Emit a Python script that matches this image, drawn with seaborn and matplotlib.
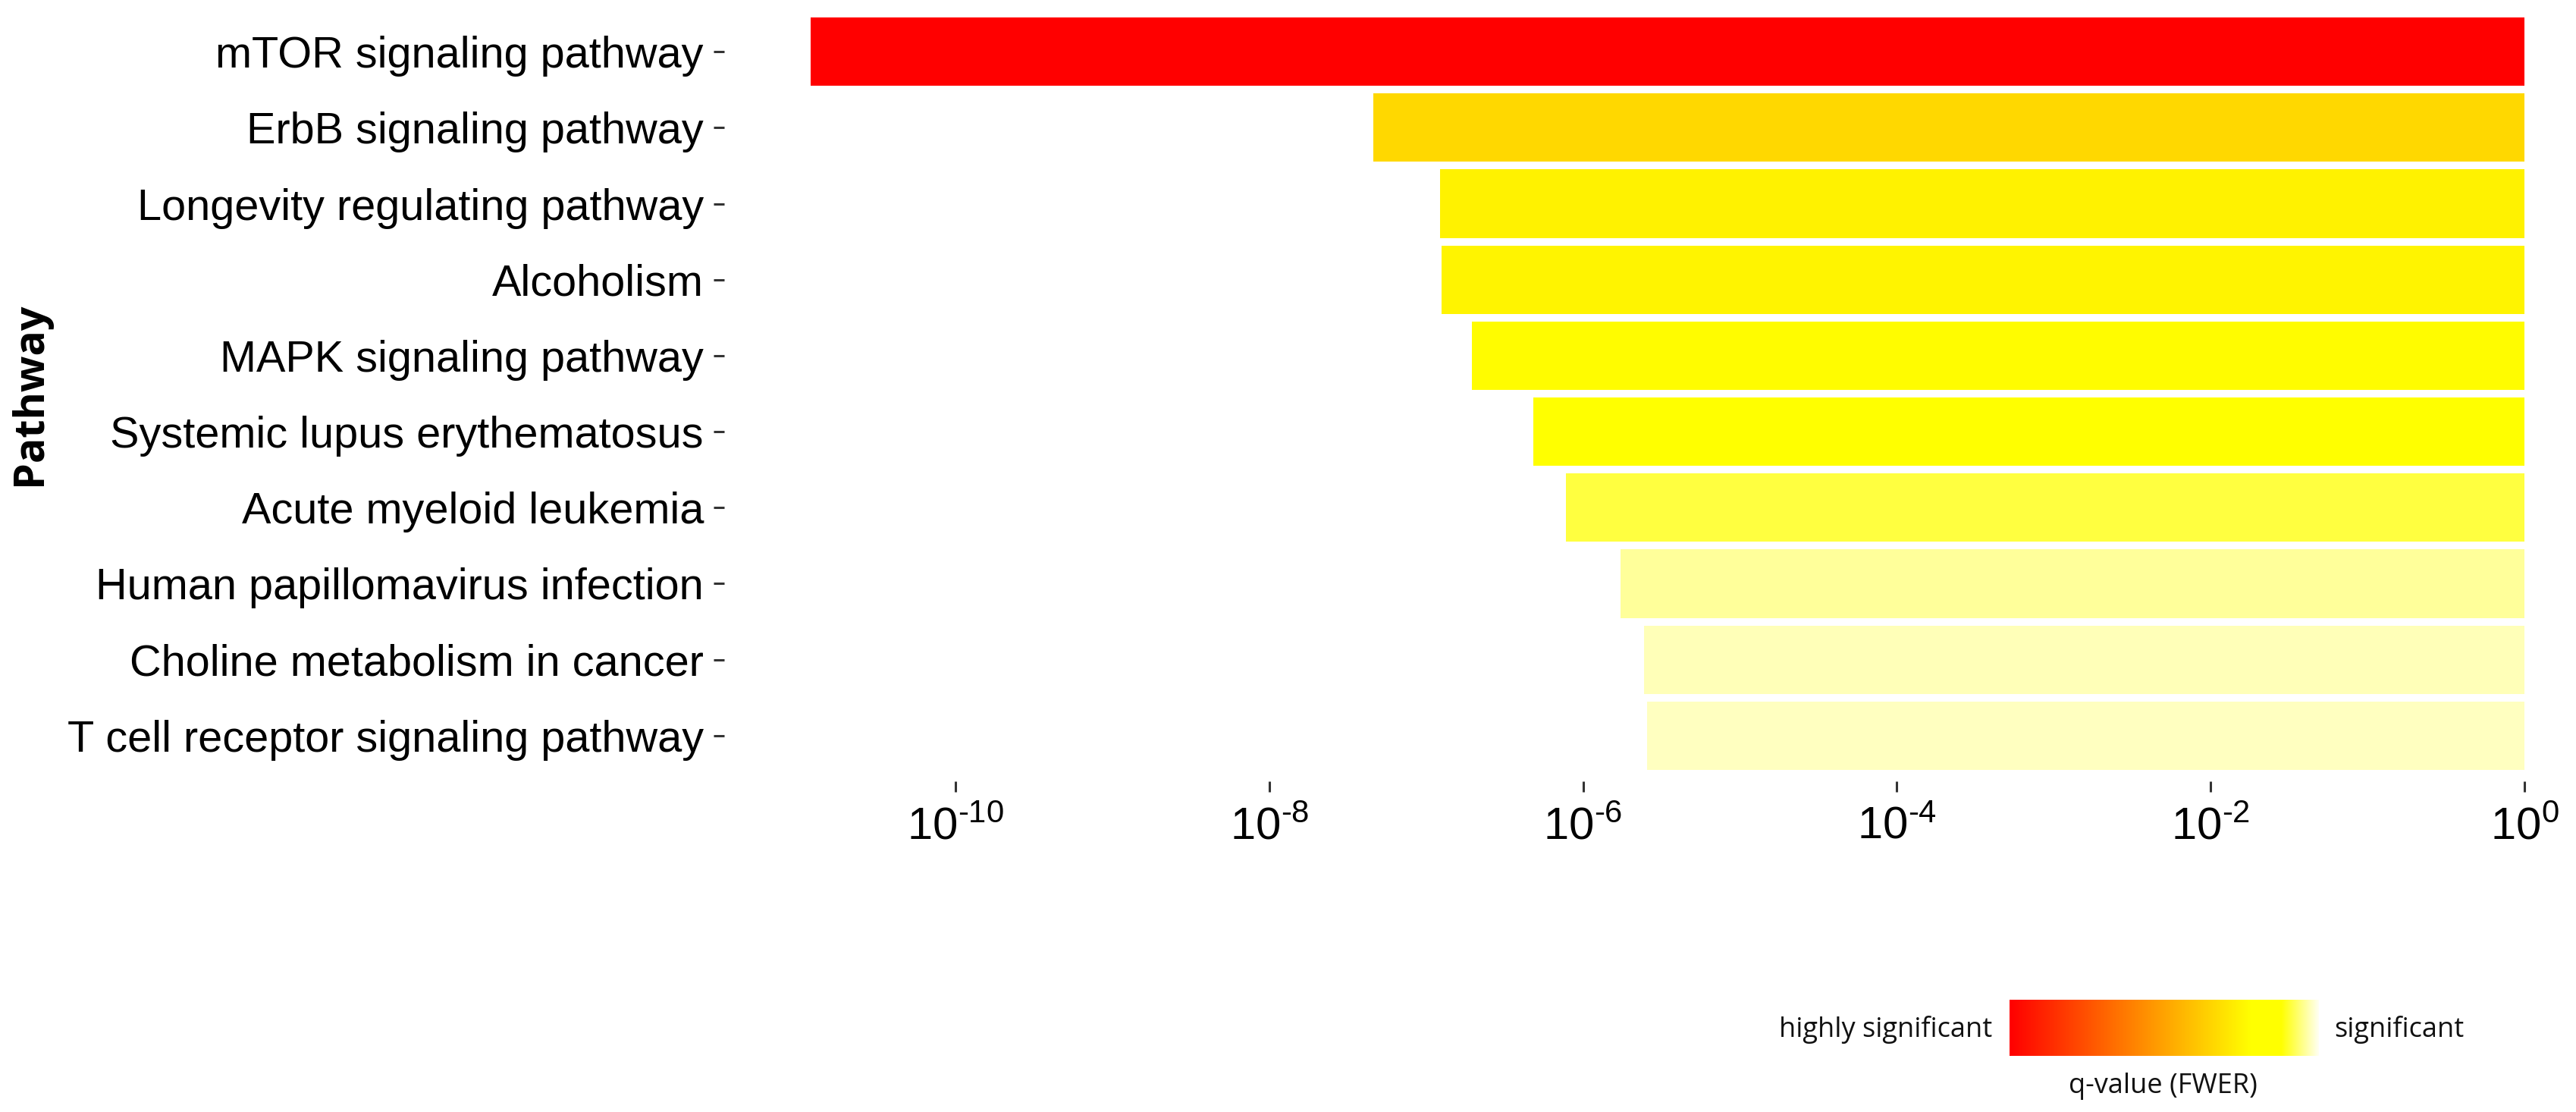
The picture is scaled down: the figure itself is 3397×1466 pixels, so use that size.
import numpy as np
import pandas as pd
import matplotlib
matplotlib.use("Agg")
import matplotlib.pyplot as plt
import seaborn as sns
from matplotlib.colors import LinearSegmentedColormap

# ---------------- data ----------------
pathways = [
    "mTOR signaling pathway",
    "ErbB signaling pathway",
    "Longevity regulating pathway",
    "Alcoholism",
    "MAPK signaling pathway",
    "Systemic lupus erythematosus",
    "Acute myeloid leukemia",
    "Human papillomavirus infection",
    "Choline metabolism in cancer",
    "T cell receptor signaling pathway",
]
q_values = [1.2e-11, 4.6e-8, 1.23e-7, 1.26e-7, 1.95e-7, 4.8e-7, 7.8e-7, 1.74e-6, 2.45e-6, 2.57e-6]
bar_colors = ["#FF0000", "#FFD800", "#FFF200", "#FFF400", "#FFFC00",
              "#FFFF00", "#FFFF40", "#FFFF9A", "#FFFFB8", "#FFFFC0"]
tick_exponents = [-10, -8, -6, -4, -2, 0]
tick_labels = [r"$\mathregular{10^{%s}}$" % (str(e).replace("-", "\u2010")) for e in tick_exponents]
legend_low = "highly significant"
legend_high = "significant"
legend_title = "q-value (FWER)"
y_title = "Pathway"

# ---------------- style ----------------
sns.set_style("white")
plt.rcParams["font.family"] = ["Liberation Sans", "DejaVu Sans"]
plt.rcParams["mathtext.fontset"] = "custom"
plt.rcParams["mathtext.rm"] = "Liberation Sans"

W, H, DPI = 3397, 1466, 100
fig = plt.figure(figsize=(W / DPI, H / DPI), dpi=DPI)
fig.patch.set_facecolor("white")

# axes placement in pixels
ax_left, ax_right, ax_top, ax_bottom = 955, 3397, 8, 1030
ax = fig.add_axes([ax_left / W, 1 - ax_bottom / H, (ax_right - ax_left) / W, (ax_bottom - ax_top) / H])

df = pd.DataFrame({"Pathway": pathways, "log10q": np.log10(q_values)})
sns.barplot(data=df, x="log10q", y="Pathway", hue="Pathway", palette=bar_colors,
            orient="h", width=0.9, saturation=1, linewidth=0, legend=False, ax=ax)

ax.set_xlim(-11.474, 0.329)
ax.set_ylim(len(pathways) - 0.4, -0.6)
ax.set_xticks(tick_exponents)
ax.set_xticklabels(tick_labels)
ax.set_xlabel("")
ax.set_ylabel("")
for s in ax.spines.values():
    s.set_visible(False)
ax.tick_params(axis="both", which="both", bottom=True, left=True, length=10, width=2.2,
               color="#333333", labelcolor="black")
ax.tick_params(axis="y", labelsize=41.5, pad=9.5)
ax.tick_params(axis="x", labelsize=43, pad=14)
ax.grid(False)
ax.set_facecolor("white")

# y title
fig.text(39 / W, 1 - 519 / H, y_title, rotation=90, ha="center", va="center",
         fontsize=40, fontweight="bold", family=["Open Sans", "DejaVu Sans"], color="black")

# ---------------- gradient legend ----------------
cmap = LinearSegmentedColormap.from_list(
    "sig", [(0.0, "#FF0000"), (0.78, "#FFFF00"), (0.88, "#FFFF00"), (1.0, "#FFFFF0")])
gx0, gx1, gy0, gy1 = 2650, 3058, 1318, 1392
cax = fig.add_axes([gx0 / W, 1 - gy1 / H, (gx1 - gx0) / W, (gy1 - gy0) / H])
cax.imshow(np.linspace(0, 1, 256).reshape(1, -1), aspect="auto", cmap=cmap)
cax.set_axis_off()

leg_font = ["Open Sans", "DejaVu Sans"]
fig.text(2627 / W, 1 - 1357 / H, legend_low, ha="right", va="center", fontsize=26,
         family=leg_font, color="#111111")
fig.text(3078 / W, 1 - 1357 / H, legend_high, ha="left", va="center", fontsize=26,
         family=leg_font, color="#111111")
fig.text(2852 / W, 1 - 1432 / H, legend_title, ha="center", va="center", fontsize=26,
         family=leg_font, color="#111111")

fig.savefig("out.png", dpi=DPI, facecolor="white")
